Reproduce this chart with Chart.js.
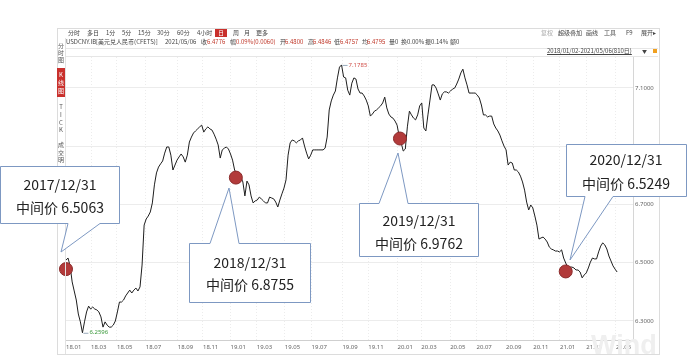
<!DOCTYPE html>
<html>
<head>
<meta charset="utf-8">
<script src="https://cdn.jsdelivr.net/npm/chart.js@4.4.1/dist/chart.umd.min.js"></script>
<style>
  html, body { margin: 0; padding: 0; background: #fff; }
  #wrap { position: relative; width: 687px; height: 362px; overflow: hidden; font-family: "Noto Sans CJK SC", "Noto Sans", sans-serif; }
  #chart { position: absolute; left: 0; top: 0; }
  #panel { position: absolute; left: 57px; top: 28px; width: 601px; height: 325px; border: 1px solid #dcdcdc; }
  #tabs { position: absolute; left: 57px; top: 38px; width: 8px; height: 316px; border-right: 1px solid #e2e2e2; }
  .t { position: absolute; font-size: 6px; line-height: 8px; color: #444; white-space: nowrap; }
  .r { color: #c0392b; }
  .g { color: #aaa; }
  .tab { position: absolute; left: 57px; width: 8px; text-align: center; font-size: 6px; line-height: 7px; color: #555; }
  #ktab { position: absolute; left: 57px; top: 68px; width: 8px; height: 29px; background: #c9302c; }
  #day { position: absolute; left: 215px; top: 29px; width: 12px; height: 8px; background: #c9302c; }
  #sep1 { position: absolute; left: 66px; top: 48px; width: 592px; height: 0; border-top: 1px solid #e6e6e6; }
  #sep2 { position: absolute; left: 66px; top: 56px; width: 592px; height: 0; border-top: 1px solid #e6e6e6; }
  #icon { position: absolute; left: 653px; top: 49px; width: 4px; height: 4px; background: #f0a020; }
  #notes { position: absolute; left: 0; top: 0; pointer-events: none; }
</style>
</head>
<body>
<div id="wrap">
  <canvas id="chart" width="687" height="362"></canvas>
  <div id="panel"></div>
  <div id="tabs"></div>
  <div id="ktab"></div>
  <div id="day"></div>
  <div id="sep1"></div>
  <div id="sep2"></div>
  <div id="icon"></div>
  <svg id="notes" width="687" height="362"></svg>
</div>
<script>
// USDCNY daily close, sampled about every 3 trading days (2018/01/02 - 2021/05/06)
const closes = [
  6.509, 6.516, 6.489, 6.434, 6.403, 6.372, 6.324, 6.297, 6.2596, 6.297,
  6.331, 6.351, 6.341, 6.348, 6.341, 6.338, 6.331, 6.314, 6.279, 6.297,
  6.286, 6.279, 6.279, 6.286, 6.300, 6.331, 6.365, 6.365, 6.372, 6.386,
  6.396, 6.406, 6.396, 6.406, 6.413, 6.403, 6.417, 6.492, 6.629, 6.650,
  6.660, 6.674, 6.705, 6.767, 6.808, 6.828, 6.839, 6.849, 6.876, 6.897,
  6.897, 6.869, 6.818, 6.835, 6.852, 6.863, 6.873, 6.863, 6.845, 6.869,
  6.914, 6.931, 6.945, 6.952, 6.959, 6.966, 6.972, 6.948, 6.959, 6.966,
  6.959, 6.955, 6.941, 6.924, 6.904, 6.859, 6.887, 6.893, 6.897, 6.890,
  6.873, 6.852, 6.818, 6.804, 6.801, 6.794, 6.777, 6.729, 6.780, 6.767,
  6.729, 6.705, 6.712, 6.715, 6.725, 6.719, 6.712, 6.705, 6.705, 6.725,
  6.722, 6.719, 6.708, 6.691, 6.715, 6.736, 6.756, 6.784, 6.869, 6.911,
  6.921, 6.918, 6.911, 6.918, 6.921, 6.928, 6.900, 6.876, 6.856, 6.869,
  6.887, 6.887, 6.887, 6.887, 6.887, 6.887, 6.893, 6.931, 7.024, 7.055,
  7.075, 7.089, 7.134, 7.171, 7.1785, 7.137, 7.134, 7.092, 7.075, 7.116,
  7.134, 7.130, 7.096, 7.082, 7.082, 7.072, 7.058, 7.038, 7.003, 7.010,
  7.020, 7.024, 7.031, 7.038, 7.048, 7.068, 7.031, 7.010, 7.000, 6.996,
  6.986, 6.972, 6.935, 6.911, 6.883, 6.890, 6.966, 7.020, 7.007, 6.996,
  6.990, 7.007, 7.038, 7.048, 6.962, 6.952, 7.007, 7.058, 7.110, 7.110,
  7.099, 7.079, 7.058, 7.079, 7.086, 7.086, 7.082, 7.089, 7.096, 7.099,
  7.113, 7.130, 7.151, 7.164, 7.134, 7.110, 7.082, 7.082, 7.082, 7.082,
  7.075, 7.065, 7.041, 7.007, 7.007, 7.000, 7.003, 7.003, 6.976, 6.962,
  6.952, 6.938, 6.918, 6.900, 6.887, 6.835, 6.845, 6.842, 6.818, 6.818,
  6.811, 6.797, 6.777, 6.749, 6.708, 6.681, 6.698, 6.688, 6.660, 6.629,
  6.581, 6.585, 6.588, 6.581, 6.571, 6.554, 6.547, 6.544, 6.540, 6.540,
  6.537, 6.544, 6.516, 6.499, 6.485, 6.485, 6.485, 6.482, 6.475, 6.475,
  6.468, 6.448, 6.458, 6.465, 6.482, 6.502, 6.516, 6.513, 6.513, 6.537,
  6.557, 6.568, 6.561, 6.547, 6.523, 6.506, 6.489, 6.478, 6.468
];

// month ticks, in sample units
const tickPos = [0, 12.2, 24.8, 38.8, 54.4, 66.6, 80.0, 92.8, 106.4, 119.4, 134.4, 147.0, 161.2, 172.8, 186.8, 199.6, 214.0, 227.2, 240.2, 253.0, 267.4];
const tickLabels = ['18.01', '18.03', '18.05', '18.07', '18.09', '18.11', '19.01', '19.03', '19.05', '19.07', '19.09', '19.11', '20.01', '20.03', '20.05', '20.07', '20.09', '20.11', '21.01', '21.03', '21.05'];
const yTicks = [6.3, 6.5, 6.7, 6.9, 7.1];

// year-end markers
const dotX = [0, 82.6, 162.4, 243.0];
const dotY = [6.478, 6.792, 6.926, 6.470];
const noteDates = ['2017/12/31', '2018/12/31', '2019/12/31', '2020/12/31'];
const noteMids = ['6.5063', '6.8755', '6.9762', '6.5249'];

// toolbar texts
const bar1 = [['分时', 68], ['多日', 87], ['1分', 106], ['5分', 122], ['15分', 138], ['30分', 157], ['60分', 177], ['4小时', 197], ['周', 233], ['月', 244], ['更多', 256],
  ['超级叠加', 558], ['画线', 586], ['工具', 604], ['F9', 626], ['展开▸', 641]];
const bar2 = [['USDCNY.IB[美元兑人民币(CFETS)]', 66], ['2021/05/06', 165], ['收', 201], ['幅', 230], ['开', 280], ['高', 308], ['低', 334], ['均', 362],
  ['量0', 389], ['换0.00%', 401], ['振0.14%', 425], ['额0', 450]];
const bar2Red = [['6.4776', 207], ['0.09%(0.0060)', 236], ['6.4800', 285], ['6.4846', 313], ['6.4757', 340], ['6.4795', 367]];
const tabChars = [['分', 42], ['时', 49], ['图', 56], ['T', 103], ['I', 111], ['C', 119], ['K', 126], ['成', 141], ['交', 149], ['明', 156]];
const ktabChars = [['K', 71], ['线', 79], ['图', 87]];

const wrap = document.getElementById('wrap');
function addText(cls, str, left, top) {
  const d = document.createElement('div');
  d.className = cls;
  d.textContent = str;
  d.style.left = left + 'px';
  d.style.top = top + 'px';
  wrap.appendChild(d);
  return d;
}
bar1.forEach(([s, x]) => addText('t', s, x, 29));
addText('t', '日', 218, 29).style.color = '#fff';
addText('t g', '复权', 541, 29);
bar2.forEach(([s, x]) => addText('t', s, x, 38));
bar2Red.forEach(([s, x]) => addText('t r', s, x, 38));
const range = addText('t', '2018/01/02-2021/05/06(810日)', 547, 47);
range.style.textDecoration = 'underline';
addText('t', '▼', 642, 47).style.fontSize = '5px';
tabChars.forEach(([s, y]) => addText('tab', s, 57, y));
ktabChars.forEach(([s, y]) => { const d = addText('tab', s, 57, y); d.style.color = '#fff'; });

// callout boxes with tails
const callouts = [
  { path: 'M0.5,166.5 H119.5 V223.5 H100 L61,252 L68,223.5 H0.5 Z', cx: 60, y1: 190, y2: 213 },
  { path: 'M189.5,243.5 H210 L229,188 L239,243.5 H310.5 V302.5 H189.5 Z', cx: 250, y1: 268, y2: 290 },
  { path: 'M359.5,203.5 H379 L398,153 L408,203.5 H478.5 V256.5 H359.5 Z', cx: 419, y1: 226, y2: 249 },
  { path: 'M566.5,144.5 H686.5 V196.5 H613 L570,260 L585,196.5 H566.5 Z', cx: 626, y1: 165, y2: 189 }
];
const svg = document.getElementById('notes');
const NS = 'http://www.w3.org/2000/svg';
const wm = document.createElementNS(NS, 'text');
wm.setAttribute('x', 591); wm.setAttribute('y', 354);
wm.setAttribute('font-size', '27'); wm.setAttribute('font-family', 'Liberation Sans, sans-serif');
wm.setAttribute('font-weight', 'bold'); wm.setAttribute('fill', '#efefef');
wm.textContent = 'Wind';
svg.appendChild(wm);
callouts.forEach((c, i) => {
  const p = document.createElementNS(NS, 'path');
  p.setAttribute('d', c.path);
  p.setAttribute('fill', '#fff');
  p.setAttribute('stroke', '#7d98c2');
  p.setAttribute('stroke-width', '1');
  svg.appendChild(p);
  [[noteDates[i], c.y1], ['中间价 ' + noteMids[i], c.y2]].forEach(([s, y]) => {
    const t = document.createElementNS(NS, 'text');
    t.setAttribute('x', c.cx); t.setAttribute('y', y);
    t.setAttribute('text-anchor', 'middle');
    t.setAttribute('font-size', '14');
    t.setAttribute('font-family', 'Noto Sans CJK SC, sans-serif');
    t.setAttribute('fill', '#222');
    t.textContent = s;
    svg.appendChild(t);
  });
});

// high / low labels on the line
const hiLoPlugin = {
  id: 'hiLo',
  afterDatasetsDraw(chart) {
    const { ctx, scales: { x, y } } = chart;
    const hi = Math.max(...closes), lo = Math.min(...closes);
    const marks = [[closes.indexOf(hi), hi, '#d0504a'], [closes.indexOf(lo), lo, '#3c9a3c']];
    ctx.save();
    ctx.font = '6px "Noto Sans"';
    ctx.textBaseline = 'middle';
    marks.forEach(([i, v, col]) => {
      const px = x.getPixelForValue(i), py = y.getPixelForValue(v);
      ctx.strokeStyle = '#9ab';
      ctx.lineWidth = 1;
      ctx.beginPath();
      ctx.moveTo(px + 1, py + 0.5);
      ctx.lineTo(px + 6, py + 0.5);
      ctx.stroke();
      ctx.fillStyle = col;
      ctx.fillText(v.toFixed(4), px + 7, py);
    });
    ctx.restore();
  }
};

new Chart(document.getElementById('chart'), {
  type: 'line',
  data: {
    datasets: [
      {
        type: 'scatter',
        data: dotX.map((v, i) => ({ x: v, y: dotY[i] })),
        pointRadius: 6.5,
        pointBackgroundColor: '#b23a3a',
        pointBorderColor: '#8a2a2a',
        pointBorderWidth: 1,
        clip: false,
        order: 0
      },
      {
        data: closes.map((v, i) => ({ x: i, y: v })),
        borderColor: '#1e1e1e',
        borderWidth: 1,
        pointRadius: 0,
        tension: 0,
        order: 1
      }
    ]
  },
  options: {
    responsive: false,
    animation: false,
    layout: { padding: { left: 65, top: 57, right: 0, bottom: 0 } },
    plugins: { legend: { display: false }, tooltip: { enabled: false } },
    scales: {
      x: {
        type: 'linear',
        min: -0.48,
        max: 275.72,
        afterBuildTicks: (axis) => { axis.ticks = tickPos.map(v => ({ value: v })); },
        afterFit: (axis) => { axis.height = 22; },
        ticks: {
          autoSkip: false,
          maxRotation: 0,
          align: 'start',
          padding: 4,
          color: '#666',
          font: { size: 6, family: 'Noto Sans' },
          callback: (v, i) => tickLabels[i]
        },
        grid: { color: '#ececec', drawTicks: false },
        border: { display: true, color: '#cfcfcf', dash: [1, 2] }
      },
      y: {
        position: 'right',
        min: 6.2348,
        max: 7.2057,
        afterBuildTicks: (axis) => { axis.ticks = yTicks.map(v => ({ value: v })); },
        afterFit: (axis) => { axis.width = 54; },
        ticks: {
          padding: 2,
          color: '#666',
          font: { size: 6, family: 'Noto Sans' },
          callback: (v) => v.toFixed(4)
        },
        grid: { color: '#ececec', drawTicks: false },
        border: { display: true, color: '#d6d6d6' }
      }
    }
  },
  plugins: [hiLoPlugin]
});
</script>
</body>
</html>
